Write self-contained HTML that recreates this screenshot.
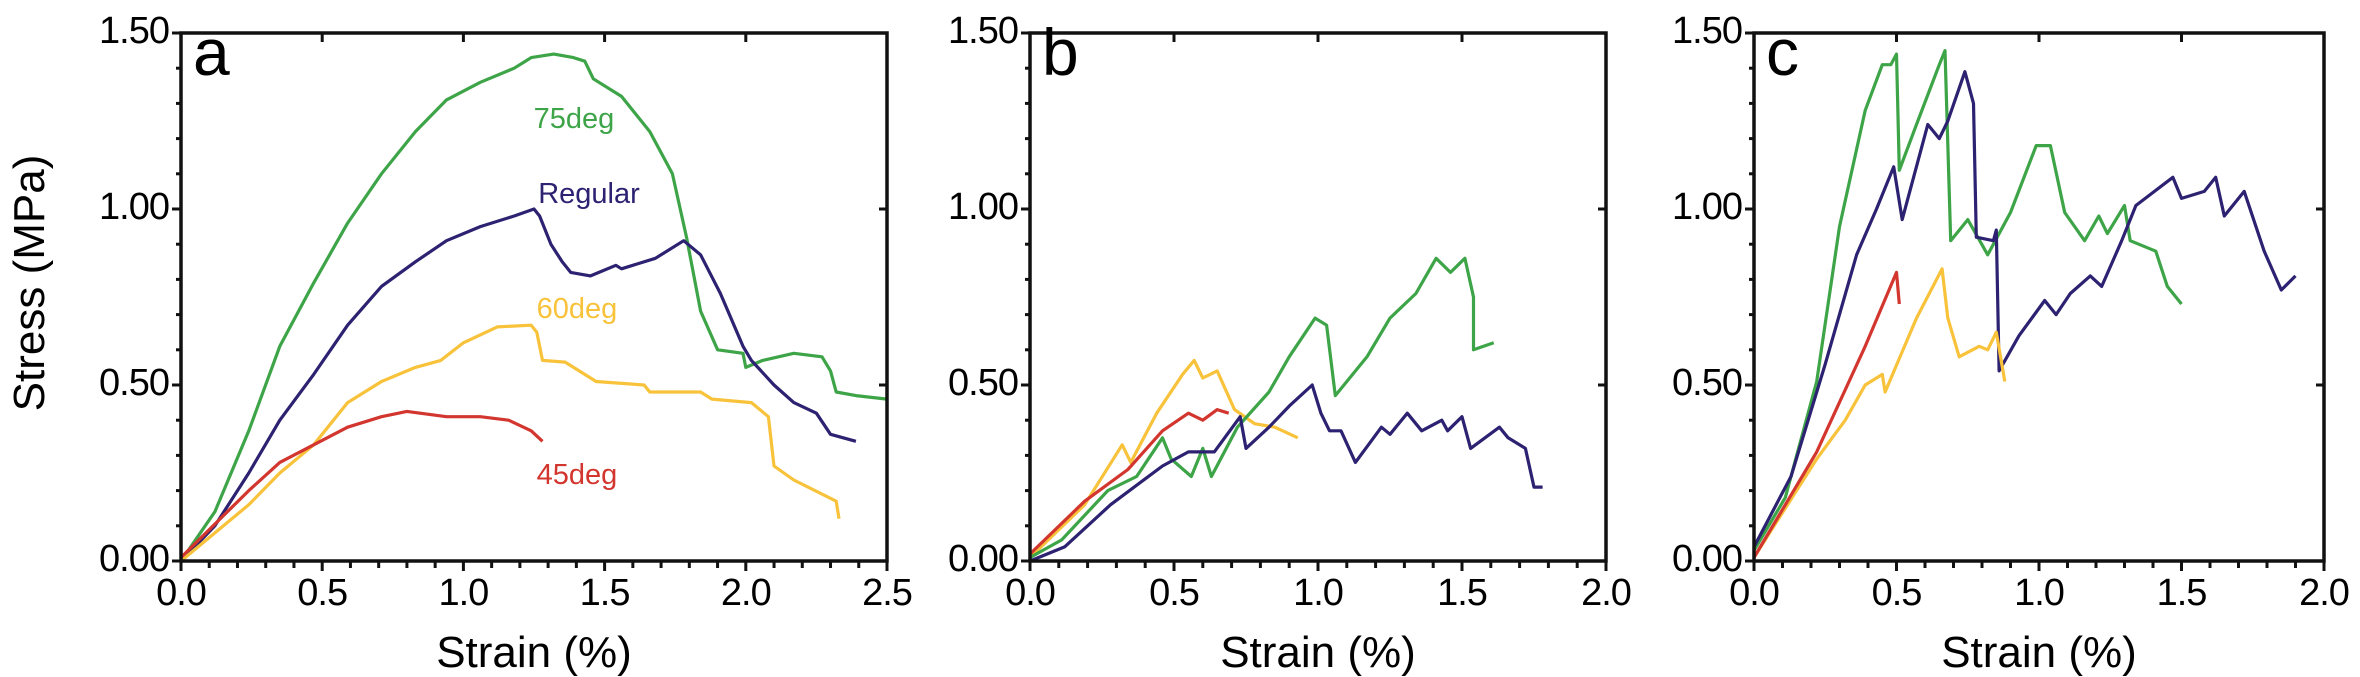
<!DOCTYPE html>
<html><head><meta charset="utf-8">
<style>
html,body{margin:0;padding:0;background:#fff;}
svg{display:block;}
text{font-family:"Liberation Sans",Arial,sans-serif;}
</style></head>
<body>
<svg id="fig" width="2360" height="677" viewBox="0 0 2360 677" xmlns="http://www.w3.org/2000/svg">
<text x="0" y="0" font-size="44" text-anchor="middle" transform="translate(44,283) rotate(-90)">Stress (MPa)</text>
</svg>
<script>
// ---------- data ----------
const yTicks = [0, 0.5, 1.0, 1.5];
const yTickLabels = ["0.00", "0.50", "1.00", "1.50"];
const xTicksA = [0, 0.5, 1.0, 1.5, 2.0, 2.5];
const xTickLabelsA = ["0.0", "0.5", "1.0", "1.5", "2.0", "2.5"];
const xTicksBC = [0, 0.5, 1.0, 1.5, 2.0];
const xTickLabelsBC = ["0.0", "0.5", "1.0", "1.5", "2.0"];
const seriesNames = ["75deg", "Regular", "60deg", "45deg"];

const aGreen = [[0,0],[0.12,0.14],[0.24,0.37],[0.35,0.61],[0.47,0.79],[0.59,0.96],[0.71,1.10],[0.83,1.22],[0.94,1.31],[1.06,1.36],[1.18,1.40],[1.24,1.43],[1.32,1.44],[1.39,1.43],[1.43,1.42],[1.46,1.37],[1.56,1.32],[1.66,1.22],[1.74,1.10],[1.79,0.92],[1.84,0.71],[1.90,0.60],[1.99,0.59],[2.0,0.55],[2.06,0.57],[2.17,0.59],[2.27,0.58],[2.30,0.54],[2.32,0.48],[2.39,0.47],[2.5,0.46]];
const aPurple = [[0,0],[0.12,0.10],[0.24,0.25],[0.35,0.40],[0.47,0.53],[0.59,0.67],[0.71,0.78],[0.83,0.85],[0.94,0.91],[1.06,0.95],[1.18,0.98],[1.25,1.0],[1.27,0.98],[1.31,0.90],[1.35,0.85],[1.38,0.82],[1.45,0.81],[1.54,0.84],[1.56,0.83],[1.68,0.86],[1.78,0.91],[1.84,0.87],[1.91,0.76],[1.99,0.61],[2.02,0.57],[2.10,0.50],[2.17,0.45],[2.25,0.42],[2.30,0.36],[2.39,0.34]];
const aYellow = [[0,0],[0.24,0.16],[0.35,0.25],[0.47,0.33],[0.59,0.45],[0.71,0.51],[0.83,0.55],[0.92,0.57],[1.00,0.62],[1.12,0.665],[1.24,0.67],[1.26,0.65],[1.28,0.57],[1.36,0.565],[1.41,0.54],[1.47,0.51],[1.64,0.50],[1.66,0.48],[1.84,0.48],[1.88,0.46],[2.02,0.45],[2.08,0.41],[2.10,0.27],[2.17,0.23],[2.32,0.17],[2.33,0.12]];
const aRed = [[0,0.01],[0.24,0.20],[0.35,0.28],[0.47,0.33],[0.59,0.38],[0.71,0.41],[0.80,0.425],[0.94,0.41],[1.06,0.41],[1.16,0.40],[1.24,0.37],[1.28,0.34]];

const bGreen = [[0,0.01],[0.11,0.06],[0.27,0.20],[0.37,0.24],[0.46,0.35],[0.49,0.29],[0.56,0.24],[0.60,0.32],[0.63,0.24],[0.72,0.38],[0.83,0.48],[0.90,0.58],[0.99,0.69],[1.03,0.67],[1.06,0.47],[1.17,0.58],[1.25,0.69],[1.34,0.76],[1.41,0.86],[1.46,0.82],[1.51,0.86],[1.54,0.75],[1.54,0.60],[1.61,0.62]];
const bPurple = [[0,0],[0.12,0.04],[0.28,0.16],[0.46,0.27],[0.55,0.31],[0.64,0.31],[0.73,0.41],[0.75,0.32],[0.83,0.38],[0.90,0.44],[0.98,0.50],[1.01,0.42],[1.04,0.37],[1.08,0.37],[1.13,0.28],[1.22,0.38],[1.25,0.36],[1.31,0.42],[1.36,0.37],[1.43,0.40],[1.45,0.37],[1.50,0.41],[1.53,0.32],[1.58,0.35],[1.63,0.38],[1.66,0.35],[1.72,0.32],[1.75,0.21],[1.78,0.21]];
const bYellow = [[0,0.01],[0.19,0.16],[0.32,0.33],[0.35,0.28],[0.44,0.42],[0.53,0.53],[0.57,0.57],[0.60,0.52],[0.65,0.54],[0.71,0.43],[0.78,0.39],[0.85,0.38],[0.93,0.35]];
const bRed = [[0,0.02],[0.19,0.17],[0.34,0.26],[0.46,0.37],[0.55,0.42],[0.60,0.40],[0.65,0.43],[0.69,0.42]];

const cGreen = [[0,0.03],[0.11,0.18],[0.22,0.51],[0.30,0.95],[0.39,1.28],[0.45,1.41],[0.48,1.41],[0.50,1.44],[0.51,1.11],[0.57,1.24],[0.65,1.41],[0.67,1.45],[0.69,0.91],[0.75,0.97],[0.82,0.87],[0.90,0.99],[0.99,1.18],[1.04,1.18],[1.09,0.99],[1.16,0.91],[1.21,0.98],[1.24,0.93],[1.30,1.01],[1.32,0.91],[1.41,0.88],[1.45,0.78],[1.50,0.73]];
const cPurple = [[0,0.04],[0.13,0.24],[0.25,0.56],[0.36,0.87],[0.43,1.00],[0.49,1.12],[0.52,0.97],[0.61,1.24],[0.65,1.20],[0.68,1.25],[0.74,1.39],[0.77,1.30],[0.78,0.92],[0.84,0.91],[0.85,0.94],[0.86,0.54],[0.93,0.64],[1.02,0.74],[1.06,0.70],[1.11,0.76],[1.18,0.81],[1.22,0.78],[1.29,0.91],[1.34,1.01],[1.47,1.09],[1.50,1.03],[1.58,1.05],[1.62,1.09],[1.65,0.98],[1.72,1.05],[1.79,0.88],[1.85,0.77],[1.90,0.81]];
const cYellow = [[0,0.01],[0.22,0.29],[0.32,0.40],[0.39,0.50],[0.45,0.53],[0.46,0.48],[0.57,0.69],[0.66,0.83],[0.68,0.69],[0.72,0.58],[0.79,0.61],[0.82,0.60],[0.85,0.65],[0.88,0.51]];
const cRed = [[0,0.01],[0.22,0.31],[0.39,0.61],[0.50,0.82],[0.51,0.73]];

// ---------- drawing ----------
const NS = "http://www.w3.org/2000/svg";
const svg = document.getElementById("fig");
const COL = {green:"#3da447", purple:"#2c2271", yellow:"#f8c23a", red:"#d2362e"};
function mk(tag, attrs, parent){
  const e = document.createElementNS(NS, tag);
  for (const k in attrs) e.setAttribute(k, attrs[k]);
  (parent||svg).appendChild(e);
  return e;
}
function panel(p){
  const g = mk("g", {});
  
  
  const sx = v => p.x0 + (v - 0) / p.xmax * (p.x1 - p.x0);
  const sy = v => p.y0 - v / 1.5 * (p.y0 - p.y1);
  p.series.forEach(s => {
    const d = s.data.map((pt,i) => (i?"L":"M") + sx(pt[0]).toFixed(1) + " " + sy(pt[1]).toFixed(1)).join(" ");
    const path = mk("path", {d:d, fill:"none", stroke:s.color, "stroke-width":3.2, "stroke-linejoin":"round"}, g);
    
    
  });
  const frame = mk("rect", {x:p.x0, y:p.y1, width:p.x1-p.x0, height:p.y0-p.y1, fill:"none", stroke:"#111", "stroke-width":3.5}, g);
  
  
  for (let v = 0; v <= 1.5001; v += 0.1) {
    const major = Math.abs(v*2 - Math.round(v*2)) < 1e-6;
    mk("line", {x1:p.x0, x2:p.x0 - (major?9:5), y1:sy(v), y2:sy(v), stroke:"#111", "stroke-width":3}, g);
    if (major) mk("line", {x1:p.x1, x2:p.x1 - 8, y1:sy(v), y2:sy(v), stroke:"#111", "stroke-width":3}, g);
  }
  for (let v = 0; v <= p.xmax + 1e-6; v += 0.1) {
    const major = Math.abs(v*2 - Math.round(v*2)) < 1e-6;
    mk("line", {x1:sx(v), x2:sx(v), y1:p.y0, y2:p.y0 + (major?10:7), stroke:"#111", "stroke-width":3}, g);
    if (major) mk("line", {x1:sx(v), x2:sx(v), y1:p.y1, y2:p.y1 + 9, stroke:"#111", "stroke-width":3}, g);
  }
  yTicks.forEach((v,i) => {
    const t = mk("text", {x:p.x0 - 12, y:sy(v) + 10, "font-size":38, "text-anchor":"end", "letter-spacing":"-1"}, g);
    t.textContent = yTickLabels[i];
    
    
  });
  p.xticks.forEach((v,i) => {
    const t = mk("text", {x:sx(v), y:605, "font-size":38, "text-anchor":"middle", "letter-spacing":"-1"}, g);
    t.textContent = p.xlabels[i];
    
    
  });
  const xt = mk("text", {x:(p.x0+p.x1)/2, y:667, "font-size":44, "text-anchor":"middle"}, g);
  xt.textContent = "Strain (%)";
  
  
  const lt = mk("text", {x:p.x0 + 12, y:p.y1 + 42, "font-size":66}, g);
  lt.textContent = p.id;
  
  
  return g;
}
const ga = panel({id:"a", x0:181, x1:887, y0:561, y1:33, xmax:2.5, xticks:xTicksA, xlabels:xTickLabelsA,
  series:[{name:"75deg",color:COL.green,data:aGreen},{name:"regular",color:COL.purple,data:aPurple},{name:"60deg",color:COL.yellow,data:aYellow},{name:"45deg",color:COL.red,data:aRed}]});
panel({id:"b", x0:1030, x1:1606, y0:561, y1:33, xmax:2.0, xticks:xTicksBC, xlabels:xTickLabelsBC,
  series:[{name:"60deg",color:COL.yellow,data:bYellow},{name:"45deg",color:COL.red,data:bRed},{name:"75deg",color:COL.green,data:bGreen},{name:"regular",color:COL.purple,data:bPurple}]});
panel({id:"c", x0:1754, x1:2324, y0:561, y1:33, xmax:2.0, xticks:xTicksBC, xlabels:xTickLabelsBC,
  series:[{name:"75deg",color:COL.green,data:cGreen},{name:"regular",color:COL.purple,data:cPurple},{name:"60deg",color:COL.yellow,data:cYellow},{name:"45deg",color:COL.red,data:cRed}]});
const labs = [[seriesNames[0],COL.green,574,128],[seriesNames[1],COL.purple,589,203],[seriesNames[2],COL.yellow,577,318],[seriesNames[3],COL.red,577,484]];
labs.forEach(l => {
  const t = mk("text", {x:l[2], y:l[3], "font-size":29, fill:l[1], "text-anchor":"middle"}, ga);
  t.textContent = l[0];
  
  
});
</script>
</body></html>
